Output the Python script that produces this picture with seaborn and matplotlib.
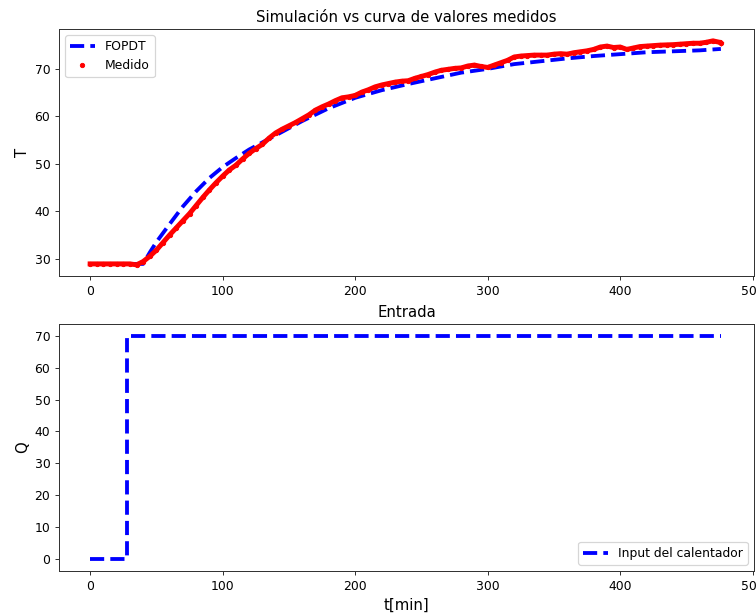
import numpy as np
import pandas as pd
import matplotlib
matplotlib.use("Agg")
import matplotlib.pyplot as plt
import seaborn as sns

# ---------------- data ----------------
t_fopdt = [0, 10, 20, 30, 40, 45, 50, 60, 70, 80, 90, 100, 110, 120, 140, 160, 180,
           200, 220, 240, 260, 280, 300, 320, 340, 360, 380, 400, 420, 440, 460, 476]
T_fopdt = [28.9, 28.9, 28.9, 28.9, 28.9, 31.3, 33.5, 37.3, 41.0, 44.2, 47.0, 49.3,
           51.2, 53.0, 56.0, 59.0, 61.7, 63.9, 65.5, 66.8, 68.0, 69.2, 70.0, 71.0,
           71.6, 72.2, 72.7, 73.1, 73.5, 73.7, 73.9, 74.2]

t_medido = list(range(0, 476, 5)) + [476]
T_medido = [28.9, 28.9, 28.9, 28.9, 28.9, 28.9, 28.9, 28.7, 29.4, 30.5,
            31.8, 33.4, 35.0, 36.5, 38.0, 39.5, 41.2, 42.9, 44.5, 46.0,
            47.4, 48.7, 49.7, 51.0, 52.2, 53.2, 54.1, 55.4, 56.5, 57.3,
            58.0, 58.7, 59.5, 60.3, 61.3, 62.0, 62.6, 63.3, 63.9, 64.1,
            64.4, 65.1, 65.6, 66.2, 66.6, 66.9, 67.2, 67.4, 67.5, 68.0,
            68.4, 68.8, 69.3, 69.7, 69.9, 70.1, 70.2, 70.6, 70.8, 70.5,
            70.3, 70.8, 71.3, 71.8, 72.5, 72.7, 72.8, 72.9, 72.9, 72.9,
            73.1, 73.2, 73.1, 73.4, 73.6, 73.8, 74.1, 74.6, 74.8, 74.5,
            74.6, 74.1, 74.4, 74.7, 74.8, 74.9, 75.0, 75.05, 75.1, 75.2,
            75.3, 75.4, 75.4, 75.6, 75.9, 75.6, 75.4]

t_input = [0, 28, 28, 476]
Q_input = [0, 0, 70, 70]

# ---------------- figure ----------------
DPI = 89
W, H = 756, 614
fig = plt.figure(figsize=(W / DPI, H / DPI), dpi=DPI)
fig.patch.set_facecolor("white")

def px_axes(left, top, right, bottom):
    return fig.add_axes([left / W, 1 - bottom / H, (right - left) / W, (bottom - top) / H])

ax1 = px_axes(59, 29, 754, 276)
ax2 = px_axes(59, 324, 754, 571)

# Top: simulation vs measured
sns.lineplot(x=t_fopdt, y=T_fopdt, ax=ax1, color="blue", linestyle="--",
             linewidth=3.1, estimator=None, sort=False, legend=False)
fopdt_handle = ax1.lines[-1]
sns.lineplot(x=t_medido, y=T_medido, ax=ax1, color="red", linewidth=4.0,
             estimator=None, sort=False, legend=False)
sns.lineplot(x=t_medido, y=T_medido, ax=ax1, color="red", linestyle="none",
             marker=".", markersize=7, markeredgecolor="red",
             estimator=None, sort=False, legend=False)
medido_handle = ax1.lines[-1]
ax1.legend(handles=[fopdt_handle, medido_handle], labels=["FOPDT", "Medido"],
           loc="upper left", fontsize=10)
ax1.set_title("Simulación vs curva de valores medidos", fontsize=12)
ax1.set_ylabel("T", fontsize=12)
ax1.set_xlabel("")
ax1.set_xticks([0, 100, 200, 300, 400, 500])
ax1.set_yticks([30, 40, 50, 60, 70])

# Bottom: input
sns.lineplot(x=t_input, y=Q_input, ax=ax2, color="blue", linestyle="--",
             linewidth=3.1, estimator=None, sort=False, legend=False)
inp_handle = ax2.lines[-1]
ax2.legend(handles=[inp_handle], labels=["Input del calentador"],
           loc="lower right", fontsize=10)
ax2.set_title("Entrada", fontsize=12)
ax2.set_ylabel("Q", fontsize=12)
ax2.set_xlabel("t[min]", fontsize=12)
ax2.set_xticks([0, 100, 200, 300, 400, 500])
ax2.set_yticks([0, 10, 20, 30, 40, 50, 60, 70])

for ax in (ax1, ax2):
    ax.set_xlim(-23.5, 501)
    ax.tick_params(labelsize=10, direction="out", length=3.5, color="#333333")
    for s in ax.spines.values():
        s.set_color("#333333")
        s.set_linewidth(0.8)
ax1.set_ylim(26.35, 78.4)
ax2.set_ylim(-3.8, 73.7)

fig.savefig("out.png", dpi=DPI, facecolor="white")
